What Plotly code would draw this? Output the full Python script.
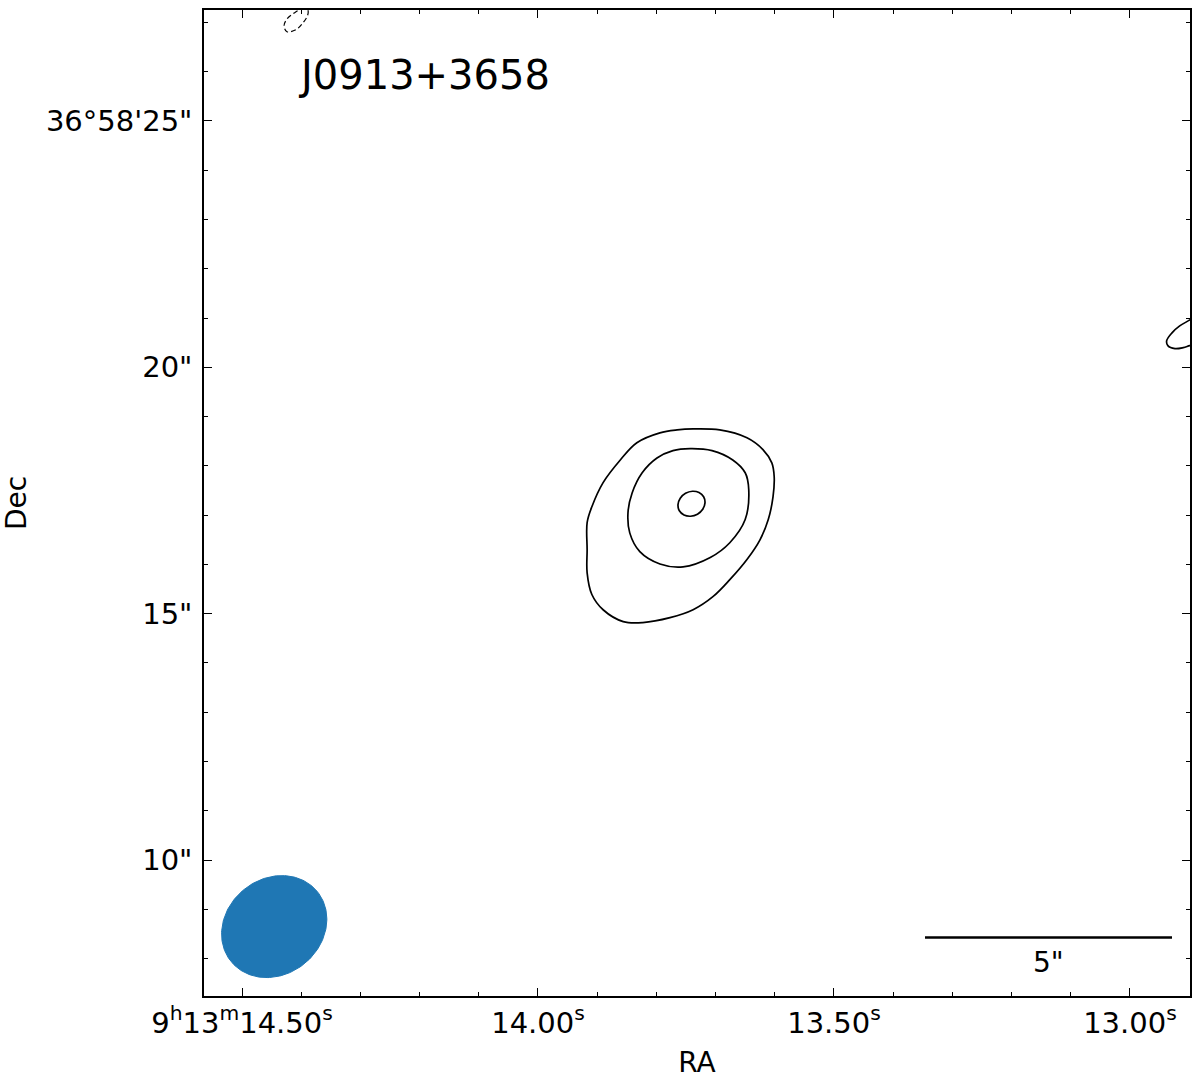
import numpy as np
import plotly.graph_objects as go

# ---------------- data (RA seconds after 9h13m, Dec arcsec after 36d58m) -------------
SOURCE_NAME = "J0913+3658"
DEC_DEG = 36.9735  # declination of field centre (for RA->arcsec scaling)

ra_range = [14.5642, 12.8986]
dec_range = [7.2414, 27.2515]

ra_tick_vals = [14.50, 14.00, 13.50, 13.00]
ra_tick_text = ["9<sup>h</sup>13<sup>m</sup>14.50<sup>s</sup>", "14.00<sup>s</sup>",
                "13.50<sup>s</sup>", "13.00<sup>s</sup>"]
dec_tick_vals = [25, 20, 15, 10]
dec_tick_text = ["36°58'25\"", "20\"", "15\"", "10\""]

# contour level 1 (outer)
c1_ra = [13.738, 13.693, 13.647, 13.620, 13.605, 13.601, 13.603, 13.611, 13.625, 13.647,
         13.676, 13.704, 13.738, 13.777, 13.823, 13.856, 13.890, 13.909, 13.917, 13.917,
         13.917, 13.909, 13.890, 13.861, 13.833, 13.794, 13.765]
c1_dec = [18.75, 18.73, 18.57, 18.33, 18.06, 17.78, 17.37, 16.91, 16.50, 16.10,
          15.69, 15.35, 15.08, 14.92, 14.82, 14.84, 15.08, 15.39, 15.83, 16.30,
          16.85, 17.17, 17.66, 18.12, 18.47, 18.67, 18.73]
# contour level 2 (middle)
c2_ra = [13.743, 13.706, 13.671, 13.650, 13.644, 13.650, 13.676, 13.709, 13.755, 13.794,
         13.828, 13.845, 13.848, 13.841, 13.824, 13.799, 13.772]
c2_dec = [18.35, 18.31, 18.12, 17.86, 17.52, 16.91, 16.44, 16.14, 15.95, 16.01,
          16.26, 16.64, 17.05, 17.45, 17.86, 18.16, 18.31]
# contour level 3 (inner)
c3_ra = [13.7202, 13.7280, 13.7392, 13.7508, 13.7597, 13.7635, 13.7612, 13.7534,
         13.7422, 13.7306, 13.7217, 13.7179]
c3_dec = [17.373, 17.459, 17.485, 17.442, 17.343, 17.213, 17.089, 17.003,
          16.978, 17.020, 17.119, 17.249]
# contour at right edge
c4_ra = [12.880, 12.899, 12.916, 12.929, 12.938, 12.936, 12.924, 12.910, 12.899, 12.880]
c4_dec = [21.10, 20.96, 20.84, 20.70, 20.54, 20.44, 20.38, 20.40, 20.44, 20.50]
# negative (dashed) contour at top
cn_ra = [14.424, 14.429, 14.424, 14.412, 14.399, 14.389, 14.389, 14.397, 14.409]
cn_dec = [26.81, 26.93, 27.07, 27.19, 27.27, 27.25, 27.15, 26.99, 26.85]

# restoring beam
beam_ra = 14.4456
beam_dec = 8.65
beam_major = 2.25   # arcsec
beam_minor = 1.94   # arcsec
beam_angle = 39.3   # degrees from +x (screen), counter-clockwise

# scale bar
bar_length = 5.0    # arcsec
bar_end_ra = 12.929
bar_dec = 8.43
bar_label = "5\""
bar_label_dec = 7.92

title_ra = 14.4084
title_dec = 25.93

# ---------------- figure -------------
FONT = "DejaVu Sans"
ra_scale = 15.0 * np.cos(np.radians(DEC_DEG))  # arcsec per RA second

fig = go.Figure()

def closed(a):
    return list(a) + [a[0]]

line_style = dict(color="black", width=1.7)
for xs, ys in [(c1_ra, c1_dec), (c2_ra, c2_dec), (c3_ra, c3_dec)]:
    fig.add_trace(go.Scatter(x=closed(xs), y=closed(ys), mode="lines",
                             line=dict(shape="spline", smoothing=1.0, **line_style),
                             hoverinfo="skip", showlegend=False))
fig.add_trace(go.Scatter(x=c4_ra, y=c4_dec, mode="lines",
                         line=dict(shape="spline", smoothing=1.0, **line_style),
                         hoverinfo="skip", showlegend=False))
fig.add_trace(go.Scatter(x=closed(cn_ra), y=closed(cn_dec), mode="lines",
                         line=dict(shape="spline", smoothing=1.0, color="black", width=1.2,
                                   dash="5px,3px"),
                         hoverinfo="skip", showlegend=False))

# beam ellipse
t = np.linspace(0, 2 * np.pi, 200)
a = beam_major / 2
b = beam_minor / 2
th = np.radians(beam_angle)
ex = a * np.cos(t) * np.cos(th) - b * np.sin(t) * np.sin(th)   # arcsec, +x = screen right
ey = a * np.cos(t) * np.sin(th) + b * np.sin(t) * np.cos(th)
fig.add_trace(go.Scatter(x=beam_ra - ex / ra_scale, y=beam_dec + ey, mode="lines",
                         fill="toself", fillcolor="#1f77b4", line=dict(color="#1f77b4", width=1),
                         hoverinfo="skip", showlegend=False))

# scale bar
bar_start_ra = bar_end_ra + bar_length / ra_scale
fig.add_trace(go.Scatter(x=[bar_start_ra, bar_end_ra], y=[bar_dec, bar_dec], mode="lines",
                         line=dict(color="black", width=2.6), hoverinfo="skip", showlegend=False))
fig.add_annotation(x=(bar_start_ra + bar_end_ra) / 2, y=bar_label_dec, text=bar_label,
                   showarrow=False, font=dict(family=FONT, size=28, color="black"),
                   xanchor="center", yanchor="middle")

fig.add_annotation(x=title_ra, y=title_dec, text=SOURCE_NAME, showarrow=False,
                   font=dict(family=FONT, size=40, color="black"),
                   xanchor="left", yanchor="middle")

axis_common = dict(showgrid=False, zeroline=False, showline=True, linecolor="black",
                   linewidth=1.5, ticks="inside", ticklen=8, tickwidth=1.3, tickcolor="black",
                   mirror="allticks", automargin=False,
                   tickfont=dict(family=FONT, size=29, color="black"))

fig.update_xaxes(range=ra_range, tickmode="array", tickvals=ra_tick_vals, ticktext=ra_tick_text,
                 minor=dict(ticks="inside", ticklen=4, tickwidth=1.1, tickcolor="black",
                            dtick=0.1, tick0=13.0, showgrid=False),
                 title=dict(text="RA", font=dict(family=FONT, size=28, color="black"), standoff=14),
                 **axis_common)
fig.update_yaxes(range=dec_range, tickmode="array", tickvals=dec_tick_vals, ticktext=dec_tick_text,
                 ticklabelstandoff=4,
                 minor=dict(ticks="inside", ticklen=4, tickwidth=1.1, tickcolor="black",
                            dtick=1, tick0=0, showgrid=False),
                 title=dict(text="Dec", font=dict(family=FONT, size=28, color="black"), standoff=18),
                 **axis_common)

fig.update_layout(width=1200, height=1079, margin=dict(l=204, r=10, t=10, b=83),
                  paper_bgcolor="white", plot_bgcolor="white",
                  font=dict(family=FONT, color="black"))

fig.write_html("out.html", config={"displayModeBar": False},
               post_script="document.body.style.margin='0';")
